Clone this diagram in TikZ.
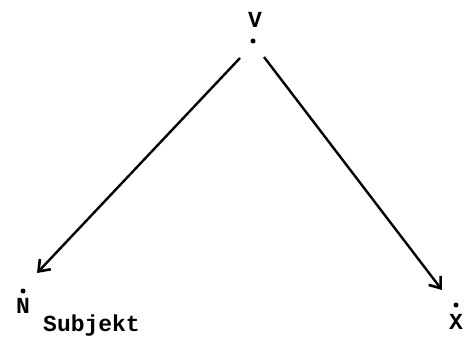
\documentclass[tikz,border=0pt]{standalone}
\usepackage{fontspec}
\setmainfont{Liberation Mono}
\usetikzlibrary{arrows.meta}
\begin{document}
\begin{tikzpicture}[x=1pt,y=-1pt,
  lab/.style={font=\fontsize{23}{23}\selectfont\bfseries, inner sep=0pt},
  sub/.style={font=\fontsize{23}{23}\selectfont\bfseries, inner sep=0pt, anchor=west},
  pt/.style={circle, fill=black, inner sep=0pt, minimum size=5pt},
  edge/.style={line width=2.4pt, -{Straight Barb[length=10pt,width=15pt,line width=2.6pt]}}]
\useasboundingbox (0,0) rectangle (469,342);
\node[lab] (V) at (255,20) {V};
\node[pt] (Vd) at (253,41) {};
\node[pt] (Nd) at (23,291) {};
\node[lab] (N) at (23,306) {N};
\node[sub] (S) at (43,326) {Subjekt};
\node[pt] (Xd) at (456,305) {};
\node[lab] (X) at (456,322) {X};
\coordinate (a1) at (240,58);
\coordinate (a2) at (37,273);
\coordinate (b1) at (264,57);
\coordinate (b2) at (442,290);
\draw[edge] (a1) -- (a2);
\draw[edge] (b1) -- (b2);
\end{tikzpicture}
\end{document}
